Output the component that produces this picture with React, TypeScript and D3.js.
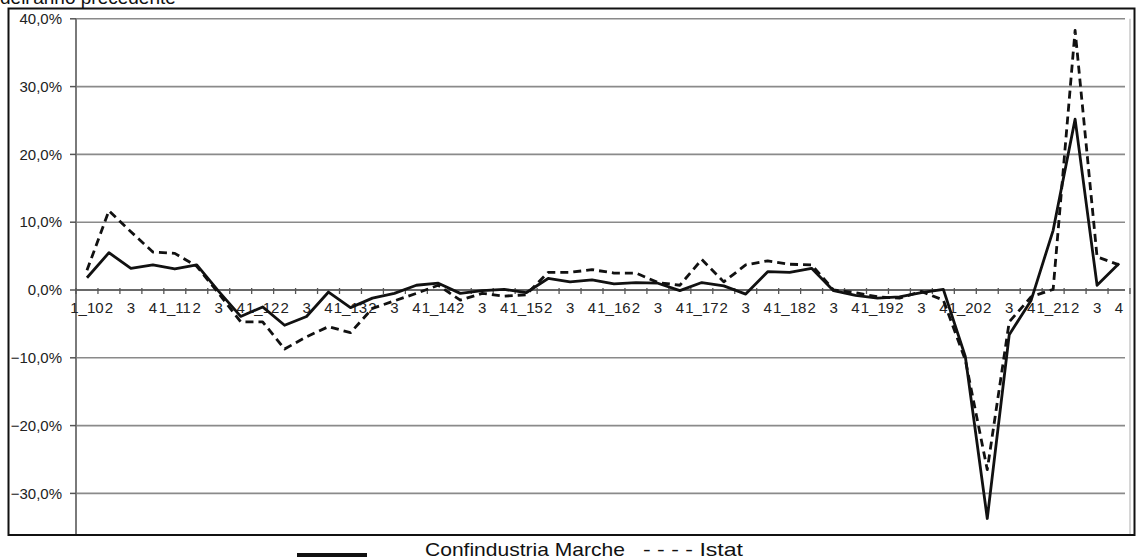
import React from "react";
import * as d3 from "d3";

// Quarterly labels, 2010 Q1 – 2021 Q4
const quarterLabels = [
  "1_10", "2", "3", "4",
  "1_11", "2", "3", "4",
  "1_12", "2", "3", "4",
  "1_13", "2", "3", "4",
  "1_14", "2", "3", "4",
  "1_15", "2", "3", "4",
  "1_16", "2", "3", "4",
  "1_17", "2", "3", "4",
  "1_18", "2", "3", "4",
  "1_19", "2", "3", "4",
  "1_20", "2", "3", "4",
  "1_21", "2", "3", "4",
];

// Variazione % sullo stesso trimestre dell'anno precedente
const confindustriaMarche = [
  1.8, 5.5, 3.2, 3.7, 3.1, 3.7, -0.2, -3.9, -2.5, -5.2, -3.9, -0.3,
  -2.6, -1.2, -0.5, 0.7, 1.0, -0.5, -0.1, 0.1, -0.4, 1.7, 1.2, 1.5,
  0.9, 1.1, 1.0, -0.1, 1.1, 0.6, -0.6, 2.7, 2.6, 3.2, -0.1, -0.8,
  -1.2, -1.0, -0.4, 0.1, -9.8, -33.7, -6.6, -1.5, 8.8, 25.2, 0.7, 3.9,
];

const istat = [
  2.9, 11.7, 8.6, 5.6, 5.4, 3.5, -0.5, -4.7, -4.7, -8.7, -6.9, -5.4,
  -6.3, -2.7, -1.6, -0.5, 0.7, -1.5, -0.5, -0.9, -0.7, 2.6, 2.6, 3.0,
  2.5, 2.5, 1.1, 0.7, 4.5, 1.2, 3.7, 4.3, 3.8, 3.7, 0.0, -0.4,
  -1.0, -1.2, -0.2, -1.5, -10.3, -26.5, -4.7, -1.0, 0.1, 38.3, 4.9, 3.7,
];

const yTicks = [40, 30, 20, 10, 0, -10, -20, -30];

const W = 1136;
const H = 560;
const FONT = "'Liberation Sans', Arial, sans-serif";

const itLocale = d3.formatLocale({
  decimal: ",",
  thousands: ".",
  grouping: [3],
  currency: ["€", ""],
});
const fmtPct = (v: number) => itLocale.format(".1f")(v) + "%";

export default function App() {
  const plotLeft = 76;
  const plotRight = 1130;
  const frame = { x: 8.5, y: 8.5, w: 1126, h: 526.5 };

  const x = d3
    .scaleBand<number>()
    .domain(quarterLabels.map((_, i) => i))
    .range([plotLeft, plotRight])
    .padding(0);
  const cx = (i: number) => (x(i) as number) + x.bandwidth() / 2;

  const y = d3.scaleLinear().domain([-40, 40]).range([561.2, 18.8]);

  const line = d3
    .line<number>()
    .x((_, i) => cx(i))
    .y((d) => y(d));

  const y0 = y(0);
  const gridRight = 1125;
  const boundaries = d3.range(quarterLabels.length + 1).map((k) =>
    k < quarterLabels.length ? (x(k) as number) : plotRight
  );

  return (
    <div style={{ position: "absolute", left: 0, top: 0 }}>
      <svg width={W} height={H} style={{ display: "block", background: "#fff" }}>
        <defs>
          <clipPath id="plot-clip">
            <rect x={frame.x} y={frame.y} width={frame.w} height={frame.h} />
          </clipPath>
        </defs>

        {/* title, running off the top of the figure */}
        <text x={0} y={4} fontFamily={FONT} fontSize={19} fill="#111">
          dell'anno precedente
        </text>

        {/* gridlines */}
        {yTicks.map((t) => (
          <line
            key={"g" + t}
            x1={plotLeft}
            x2={gridRight}
            y1={y(t)}
            y2={y(t)}
            stroke="#8a8a8a"
            strokeWidth={1.6}
          />
        ))}

        {/* right border of plot area */}
        <line x1={plotRight} x2={plotRight} y1={y(40)} y2={frame.y + frame.h} stroke="#c8c8c8" strokeWidth={1.5} />

        {/* y axis */}
        <line x1={plotLeft} x2={plotLeft} y1={y(40)} y2={frame.y + frame.h} stroke="#7a7a7a" strokeWidth={2} />
        {yTicks.map((t) => (
          <g key={"yt" + t}>
            <line x1={plotLeft - 6} x2={plotLeft} y1={y(t)} y2={y(t)} stroke="#555" strokeWidth={1.5} />
            <text
              x={62}
              y={y(t)}
              dy="0.35em"
              textAnchor="end"
              fontFamily={FONT}
              fontSize={15}
              fill="#222"
            >
              {fmtPct(t)}
            </text>
          </g>
        ))}

        {/* category axis at zero */}
        <line x1={plotLeft} x2={gridRight} y1={y0} y2={y0} stroke="#555" strokeWidth={1.6} />
        {boundaries.map((bx, k) => (
          <line key={"xt" + k} x1={bx} x2={bx} y1={y0 - 2} y2={y0 + 4} stroke="#555" strokeWidth={1.3} />
        ))}
        {quarterLabels.map((lab, i) => (
          <text
            key={"xl" + i}
            x={cx(i)}
            y={313}
            textAnchor="middle"
            fontFamily={FONT}
            fontSize={15}
            fill="#222"
          >
            {lab}
          </text>
        ))}

        {/* series */}
        <g clipPath="url(#plot-clip)">
          <path
            d={line(istat) ?? ""}
            fill="none"
            stroke="#111"
            strokeWidth={2.8}
            strokeDasharray="8,5"
            strokeLinejoin="round"
          />
          <path
            d={line(confindustriaMarche) ?? ""}
            fill="none"
            stroke="#111"
            strokeWidth={2.8}
            strokeLinejoin="round"
          />
        </g>

        {/* outer frame */}
        <rect
          x={frame.x}
          y={frame.y}
          width={frame.w}
          height={frame.h}
          fill="none"
          stroke="#111"
          strokeWidth={2}
        />

        {/* legend */}
        <line x1={297} x2={367} y1={555} y2={555} stroke="#111" strokeWidth={4} />
        <text
          x={425}
          y={556}
          fontFamily={FONT}
          fontSize={19}
          fill="#111"
          textLength={200}
          lengthAdjust="spacingAndGlyphs"
        >
          Confindustria Marche
        </text>
        <text
          x={643}
          y={556}
          fontFamily={FONT}
          fontSize={19}
          fill="#111"
          textLength={100}
          lengthAdjust="spacingAndGlyphs"
        >
          - - - - Istat
        </text>
      </svg>
    </div>
  );
}
